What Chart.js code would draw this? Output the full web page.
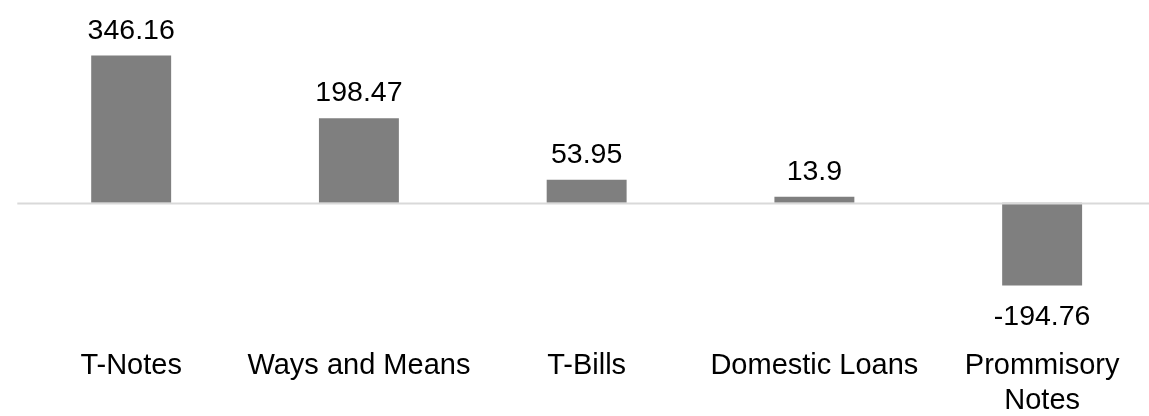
<!DOCTYPE html>
<html>
<head>
<meta charset="utf-8">
<script src="https://cdn.jsdelivr.net/npm/chart.js@4/dist/chart.umd.min.js"></script>
<style>
  html, body { margin: 0; padding: 0; background: #fff; overflow: hidden; }
  #wrap { width: 1149px; height: 416px; overflow: hidden; position: relative; }
  canvas { display: block; }
</style>
</head>
<body>
<div id="wrap"><canvas id="c" width="1160" height="426"></canvas></div>
<script>
// data
const categories = ['T-Notes', 'Ways and Means', 'T-Bills', 'Domestic Loans', ['Prommisory', 'Notes']];
const values = [346.16, 198.47, 53.95, 13.9, -194.76];
const yMin = -324, yMax = 477;

const FONT = '"Liberation Sans", Arial, sans-serif';

// zero line + value labels above/below each bar
const barLabels = {
  id: 'barLabels',
  afterDatasetsDraw(chart) {
    const { ctx, chartArea, scales } = chart;
    const y0 = Math.round(scales.y.getPixelForValue(0)) + 0.5;
    ctx.save();
    ctx.strokeStyle = '#d9d9d9';
    ctx.lineWidth = 2;
    ctx.beginPath();
    ctx.moveTo(chartArea.left, y0);
    ctx.lineTo(chartArea.right, y0);
    ctx.stroke();

    ctx.font = '28.5px ' + FONT;
    ctx.fillStyle = '#000';
    ctx.textAlign = 'center';
    ctx.textBaseline = 'alphabetic';
    chart.getDatasetMeta(0).data.forEach((bar, i) => {
      const v = values[i];
      const y = v >= 0 ? bar.y - 17 : bar.y + 40;
      ctx.fillText(String(v), bar.x, y);
    });
    ctx.restore();
  }
};

new Chart(document.getElementById('c'), {
  type: 'bar',
  data: {
    labels: categories,
    datasets: [{
      data: values,
      backgroundColor: '#7f7f7f',
      borderWidth: 0,
      barPercentage: 0.351,
      categoryPercentage: 1
    }]
  },
  options: {
    responsive: false,
    animation: false,
    layout: { padding: { left: 17.3, right: 4, top: 0, bottom: 0 } },
    plugins: { legend: { display: false }, tooltip: { enabled: false } },
    scales: {
      x: {
        grid: { display: false, drawTicks: false },
        border: { display: false },
        ticks: {
          color: '#000',
          font: { family: FONT, size: 29 },
          padding: 8,
          maxRotation: 0,
          autoSkip: false
        }
      },
      y: { display: false, min: yMin, max: yMax }
    }
  },
  plugins: [barLabels]
});
</script>
</body>
</html>
